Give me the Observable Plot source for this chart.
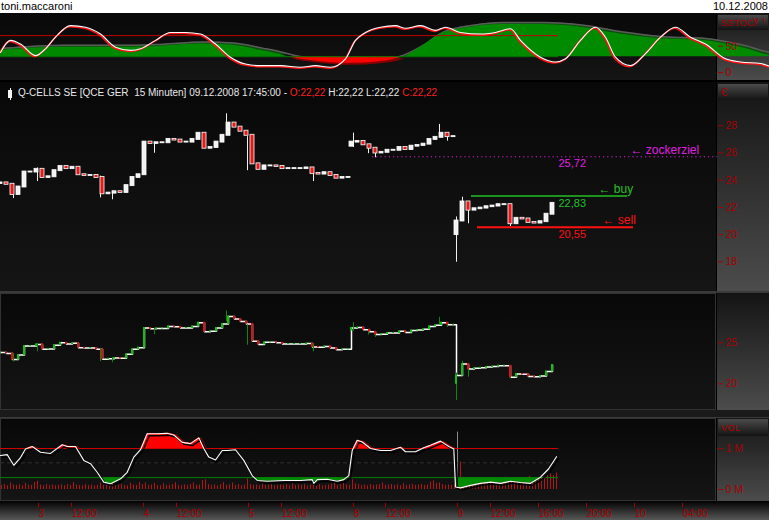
<!DOCTYPE html>
<html><head><meta charset="utf-8">
<script src="https://cdn.jsdelivr.net/npm/d3@7"></script>
<script src="https://cdn.jsdelivr.net/npm/@observablehq/plot@0.6"></script>
<style>
html,body{margin:0;padding:0;background:#fff;}
#root{position:relative;width:769px;height:520px;overflow:hidden;background:#000;font-family:"Liberation Sans",Arial,sans-serif;}
.a{position:absolute;}
.pa{background:linear-gradient(#080808,#151515);}
.col{background:linear-gradient(#141414,#4c4c4c);}
.hdr{background:linear-gradient(#4a4a4a,#131313);}
.ht{color:#a80000;font-size:9.5px;white-space:nowrap;}
svg{overflow:visible;}
</style></head><body><div id="root"></div>
<script>
// ---------- DATA ----------
// x unit: 5-minute slot (one 15-minute bar = 3 slots)
const tickSlots  = [37, 70, 142, 175, 247, 280, 352, 384, 456, 489, 537, 585, 633, 681];
const tickLabels = ["3","12:00","4","12:00","5","12:00","8","12:00","9","12:00","16:00","20:00","10","04:00"];

// price candles, one per 30 minutes, closes
const seg1Start = 0, seg1Open = 23.75;
const seg1Close = [23.8,23.7,22.95,23.5,24.6,24.6,24.8,24.2,24.25,24.7,25.0,24.85,24.95,24.4,24.35,24.35,24.2,23.0,23.05,23.15,
  23.1,23.6,24.2,24.4,26.8,26.7,26.75,26.75,27.0,26.95,26.8,26.8,27.0,27.45,26.35,26.4,26.8,27.3,28.2,27.9,
  27.6,27.3,25.2,24.8,25.05,25.05,25.0,24.85,24.85,24.85,24.85,24.9,24.5,24.45,24.55,24.35,24.15,24.2,24.2];
const seg2Start = 351, seg2Open = 26.5;
const seg2Close = [26.8,26.85,26.6,26.35,26.0,26.05,26.2,26.2,26.4,26.25,26.5,26.55,26.65,27.0,27.15,27.45,27.2,27.2];
const seg3Start = 456, seg3Open = 20.0;
const seg3Close = [21.0,22.4,21.8,21.9,21.95,22.05,22.1,22.2,22.2,20.8,21.2,21.15,20.9,20.85,20.95,21.5,22.3];
// wicks: [slot, high, low]
const wicks = [[13,23.7,22.65],[37,24.9,23.9],[100,24.3,22.7],[112,23.2,22.56],[154,26.8,25.98],[226,28.88,27.6],
  [247,27.2,24.7],[313,24.9,23.9],[353,27.46,26.4],[368,26.5,25.95],[375,26.1,25.65],[439,28.1,27.2],[447,27.3,26.87],
  [456,21.3,17.97],[462,22.75,21.3],[468,22.4,20.8],[510,22.2,20.6]];

// trading levels
const levelValues = [25.72, 22.83, 20.55];
const levelLabels = ["25,72", "22,83", "20,55"];
const levelNames  = ["\u2190 zockerziel", "\u2190 buy", "\u2190 sell"];
const levelFrom   = [372, 471, 477];
const levelTo     = [717, 627, 633];
const levelNameAt = [630, 598, 602];

// SSTOC fast line
const stocT = [0,10,20,35,45,55,70,85,100,115,130,140,155,170,185,200,215,230,245,260,280,300,315,330,345,355,365,380,395,405,
  420,435,445,460,480,495,510,520,540,555,565,580,595,605,615,630,645,660,675,690,705,725,740,760,775,
  795,816,840,864,885,906,930,954,975,996,1020,1044,1065,1086,1110,1140,1170,1200,1230,1260,1284,1308,1332,1356,1380,1404,1428,1452,1476,1500,1524,1548,1572,1596,1620,1644,1668];
const stocFast = [38,61,54,32,45,67,89,86,73,48,42,45,61,76,76,73,54,29,16,13,13,10,13,10,26,61,76,86,89,84,
  89,80,86,76,73,76,83,61,29,20,26,61,86,67,29,13,36,67,86,67,54,26,20,17,10,
  30,60,80,55,30,55,75,50,25,15,30,55,80,70,50,60,45,55,70,80,90,60,30,55,80,70,40,30,65,85,55,30,50,70,40,30,70];
// SSTOC slow line (filled)
const slowT = [0,60,100,130,160,200,230,260,280,290,315,350,375,400,420,440,470,500,540,580,620,660,700,740,775,
  810,855,900,945,990,1035,1080,1140,1200,1260,1320,1380,1440,1500,1560,1620,1668];
const stocSlow = [42,48,48,48,50,54,52,42,34,29,22,17.6,20,29,48,73,86,91,91,86,73,64,61,48,32,
  35,45,40,35,25,40,55,50,55,70,60,55,60,65,50,45,50];

// volume oscillator line (M)
const voT = [0,6.7,13.3,20,25,31.7,40,50,61.7,66.7,75,83.3,90,96.7,103.3,110,120,126.7,133.3,140,
  146.7,156.7,166.7,173.3,181.7,190,198.3,203.3,208.3,215,221.7,226.7,235,243.3,251.7,256.7,266.7,283.3,300,311.7,
  313.3,316.7,326.7,336.7,343.3,348.3,351.7,356.7,361.7,370,380,390,400,405,415,423.3,430,440,448.3,453.3,
  455,460,470,480,490,500,510,520,530,540,548,556];
const voV = [0.83,0.85,0.59,0.78,0.99,1.05,0.91,0.88,1.09,1.05,1.05,0.71,0.63,0.42,0.18,0.14,0.26,0.42,0.79,0.97,
  1.36,1.36,1.37,1.33,1.15,1.12,1.26,1.0,0.79,0.72,0.95,0.95,0.97,0.71,0.34,0.22,0.2,0.22,0.22,0.24,
  0.15,0.24,0.25,0.2,0.24,0.34,0.95,1.2,1.16,1.0,0.95,0.95,1.03,0.92,0.92,1.02,1.08,1.18,1.05,0.99,
  0.06,0.04,0.1,0.15,0.18,0.15,0.2,0.17,0.15,0.3,0.5,0.8];
// volume per 15-minute bar (hundredths of a million)
const volume = [10,12,9,16,11,10,12,9,15,11, 10,17,20,11,9,12,10,11,9,10, 11,9,12,10,17,11,10,9,12,10,
  11,9,10,16,10,12,9,14,10,11, 12,10,9,15,11,10,17,12,16,10, 11,15,10,9,14,10,11,12,17,10,
  9,11,10,12,16,10,11,22,24,12, 10,11,9,12,17,10,11,16,10,12, 9,11,26,12,10,11,9,15,10,11,
  12,9,10,11,10,12,9,14,10,11, 10,12,9,11,10,11,12,9,10,11, 13,16,10,12,15,11,10,24,14,12,
  10,11,9,12,10,11,12,16,10,11, 12,10,11,9,14,10,11,12,10,11, 12,10,11,18,21,15,16,12,10,11, 10,12,
  140,67,30,25,22,28,24,20,22,26, 21,24,22,28,25,23,30,26,22,24, 27,25,23,28,32,26,24,29,33,30, 35,38,34,40];

// ---------- LAYOUT ----------
const root = document.getElementById("root");
function box(cls, l, t, w, h, html, css) {
  const d = document.createElement("div");
  d.className = "a " + (cls || "");
  Object.assign(d.style, {left: l + "px", top: t + "px", width: w + "px", height: h + "px"}, css || {});
  if (html != null) d.innerHTML = html;
  root.appendChild(d);
  return d;
}
const P = {A: {top: 13, h: 67}, B: {top: 82, h: 209}, C: {top: 293, h: 117}, D: {top: 418, h: 83}};
box("", 0, 0, 769, 13, null, {background: "#fff"});
box("", 1, 0, 120, 12, "toni.maccaroni", {fontSize: "11px", lineHeight: "12px", color: "#000"});
box("", 700, 0, 68, 12, "10.12.2008", {fontSize: "11px", lineHeight: "12px", color: "#000", textAlign: "right"});
for (const k of ["A","B","C","D"]) {
  const p = P[k];
  box("pa", 0, p.top, 716, p.h, null, (k === "C" || k === "D") ? {boxShadow: "inset 0 0 0 1px #333"} : {});
  box("col", 717, p.top, 52, p.h);
}
box("", 0, 291, 769, 2, null, {background: "#3a3a3a"});
box("", 0, 410, 769, 8, null, {background: "#1a1a1a", borderBottom: "1px solid #3a3a3a", boxSizing: "border-box"});
box("", 0, 501, 769, 19, null, {background: "linear-gradient(#020202,#575757)"});
box("hdr", 718, 15, 50, 15);
box("hdr", 718, 84, 50, 16);
box("hdr", 718, 419, 50, 17);
box("ht", 721, 17, 40, 11, "SSTOC", {lineHeight: "11px"});
box("ht", 721, 86, 20, 12, "\u20ac", {lineHeight: "12px", fontSize: "11px"});
box("ht", 721, 422, 30, 11, "VOL", {lineHeight: "11px"});

// ---------- HELPERS ----------
function clip(xs, vs, T, above) {
  const out = [];
  for (let i = 0; i < xs.length; i++) {
    if (i > 0) {
      const a = vs[i-1] - T, b = vs[i] - T;
      if (a * b < 0) { const f = a / (a - b); out.push({x: xs[i-1] + f * (xs[i] - xs[i-1]), y: T}); }
    }
    out.push({x: xs[i], y: above ? Math.max(vs[i], T) : Math.min(vs[i], T)});
  }
  return out;
}
function pts(xs, vs) { return xs.map((x, i) => ({x, y: vs[i]})); }
function mk(start, closes, open0) { return closes.map((c, i) => ({t: start + 6 * i, o: i ? closes[i-1] : open0, c})); }
const candles = [...mk(seg1Start, seg1Close, seg1Open), ...mk(seg2Start, seg2Close, seg2Open), ...mk(seg3Start, seg3Close, seg3Open)];
const AX = "#a80000";
const baseStyle = {background: "transparent", color: AX, fontFamily: "Liberation Sans, Arial, sans-serif", fontSize: "10px", overflow: "visible"};

function place(top, svg) {
  const d = box("", 0, top, 769, svg.getAttribute("height"));
  d.appendChild(svg);
}
function panel(p, yDomain, marks, mb = 0) {
  const svg = Plot.plot({
    width: 769, height: p.h + mb, marginLeft: 0, marginRight: 52, marginTop: 0, marginBottom: mb,
    x: {domain: [0, 717], axis: null},
    y: {domain: yDomain, axis: null},
    style: baseStyle,
    marks
  });
  place(p.top, svg);
}
const yR = {anchor: "right", tickSize: 5, tickPadding: 3, fontSize: 10.5};

// ---------- PANEL A : SSTOC ----------
const slowPts = pts(slowT, stocSlow), fastPts = pts(stocT, stocFast);
const sG = clip(slowT, stocSlow, 30, true), sR = clip(slowT, stocSlow, 30, false);
const lastT = 558;
panel(P.A, [-15.2, 112], [
  Plot.areaY(sG, {x: "x", y1: () => 30, y2: "y", fill: "#0c4e0c", dx: 3, dy: -2, curve: "monotone-x"}),
  Plot.line(slowPts, {x: "x", y: "y", stroke: "#5a5a5a", dx: 3, dy: -2, curve: "monotone-x"}),
  Plot.areaY(sG, {x: "x", y1: () => 30, y2: "y", fill: "#008a00", curve: "monotone-x"}),
  Plot.areaY(sR, {x: "x", y1: () => 30, y2: "y", fill: "#8a0000", dx: 3, dy: 2, curve: "monotone-x"}),
  Plot.areaY(sR, {x: "x", y1: () => 30, y2: "y", fill: "#ff0000", curve: "monotone-x"}),
  Plot.ruleY([70], {x1: () => 0, x2: () => lastT, stroke: "#c00000"}),
  Plot.ruleY([30], {x1: () => 0, x2: () => lastT, stroke: "#007a00"}),
  Plot.line(fastPts, {x: "x", y: "y", stroke: "#ff1010", strokeWidth: 1.6, dx: -1, dy: 1, curve: "monotone-x"}),
  Plot.line(fastPts, {x: "x", y: "y", stroke: "#ffffff", strokeWidth: 1.1, curve: "monotone-x"}),
  Plot.axisY([0, 50], yR)
]);

// ---------- PANEL B : price ----------
const lv = levelValues.map((v, i) => ({v, from: levelFrom[i], to: levelTo[i], lab: levelLabels[i], name: levelNames[i], at: levelNameAt[i]}));
const lvColor = ["#e020e0", "#22c022", "#ff1010"];
panel(P.B, [15.82, 31.18], [
  Plot.ruleX(wicks, {x: d => d[0], y1: d => d[1], y2: d => d[2], stroke: "#f0f0f0"}),
  Plot.rect(candles, {x1: d => d.t - 2, x2: d => d.t + 2, y1: "o", y2: "c", fill: d => d.c < d.o ? "#e81818" : "#f2f2f2",
    stroke: "#ffffff", strokeWidth: 0.8, insetTop: -0.5, insetBottom: -0.5}),
  Plot.ruleY([lv[0]], {y: "v", x1: "from", x2: "to", stroke: lvColor[0], strokeDasharray: "1.2,3"}),
  Plot.ruleY([lv[1]], {y: "v", x1: "from", x2: "to", stroke: lvColor[1], strokeWidth: 1.5}),
  Plot.ruleY([lv[2]], {y: "v", x1: "from", x2: "to", stroke: lvColor[2], strokeWidth: 2}),
  Plot.text(lv, {x: () => 558, y: "v", text: "lab", fill: (d, i) => lvColor[i], textAnchor: "start", dy: 7, fontSize: 11}),
  Plot.text(lv, {x: "at", y: "v", text: "name", fill: (d, i) => lvColor[i], textAnchor: "start", dy: -7, fontSize: 12}),
  Plot.axisY([18, 20, 22, 24, 26, 28], yR)
]);
// header line
box("", 8, 90, 4, 8, null, {background: "#f4f4f4"});
box("", 9.5, 88, 1, 12, null, {background: "#f4f4f4"});
box("", 18, 86, 560, 13,
  'Q-CELLS SE [QCE GER&nbsp; 15 Minuten] 09.12.2008 17:45:00 - <span style="color:#ff2020">O:22,22</span> H:22,22 L:22,22 <span style="color:#ff2020">C:22,22</span>',
  {fontSize: "10px", lineHeight: "13px", color: "#e8e8e8", whiteSpace: "nowrap"});

// ---------- PANEL C : price (compressed) ----------
panel(P.C, [16.74, 31.01], [
  Plot.line(candles, {x: "t", y: "c", stroke: "#fff", curve: "step-after"}),
  Plot.ruleX(wicks, {x: d => d[0], y1: d => d[1], y2: d => d[2], stroke: "#0a8a0a"}),
  Plot.rect(candles, {x1: d => d.t - 1, x2: d => d.t + 1, y1: "o", y2: "c", fill: d => d.c < d.o ? "#e01010" : "#10c010", insetTop: -0.5, insetBottom: -0.5}),
  Plot.axisY([20, 25], yR)
]);

// ---------- PANEL D : volume ----------
const volData = volume.map((v, i) => ({t: 3 * i + 1, v: v / 100}));
const voPts = pts(voT, voV);
const vR = clip(voT, voV, 1.0, true), vG = clip(voT, voV, 0.29, false);
const tickMap = new Map(tickSlots.map((s, i) => [s, tickLabels[i]]));
panel(P.D, [-0.293, 1.732], [
  Plot.ruleX(volData, {x: "t", y1: () => 0, y2: "v", stroke: d => d.v > 1 ? "#8a8a8a" : "#b01818"}),
  Plot.ruleY([0.65], {x1: () => 0, x2: () => lastT, stroke: "#303030", strokeDasharray: "4,3"}),
  Plot.areaY(vR, {x: "x", y1: () => 1.0, y2: "y", fill: "#9a0000", dx: 3}),
  Plot.areaY(vR, {x: "x", y1: () => 1.0, y2: "y", fill: "#ff0000"}),
  Plot.areaY(vG, {x: "x", y1: () => 0.29, y2: "y", fill: "#005000", dx: 3}),
  Plot.areaY(vG, {x: "x", y1: () => 0.29, y2: "y", fill: "#008a00"}),
  Plot.ruleY([1.0], {x1: () => 0, x2: () => lastT, stroke: "#d00000"}),
  Plot.ruleY([0.29], {x1: () => 0, x2: () => lastT, stroke: "#008000"}),
  Plot.line(voPts, {x: "x", y: "y", stroke: "#000", strokeWidth: 1.5, dx: 2, dy: 2}),
  Plot.line(voPts, {x: "x", y: "y", stroke: "#fff", strokeWidth: 1.1}),
  Plot.axisY([0, 1], {...yR, tickFormat: d => d + " M"}),
  Plot.axisX(tickSlots, {tickFormat: d => tickMap.get(d), tickSize: 4, tickPadding: 2, textAnchor: "start", dx: 1, dy: 2, fontSize: 10})
], 19);
</script></body></html>
